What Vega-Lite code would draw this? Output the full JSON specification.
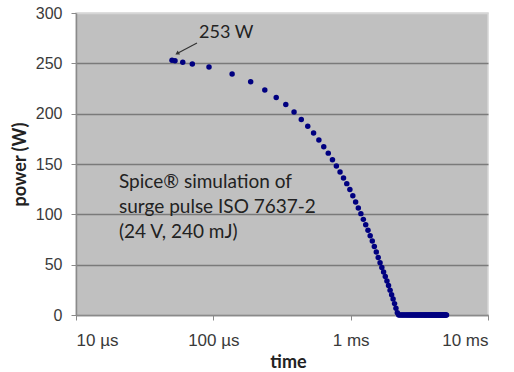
{
  "$schema": "https://vega.github.io/schema/vega-lite/v6.json",
  "width": 412,
  "height": 302,
  "autosize": {"type": "none"},
  "padding": {"left": 76, "top": 13, "right": 26, "bottom": 57},
  "background": "white",
  "config": {
    "view": {"fill": "#c0c0c0", "stroke": "#d6d6d6", "strokeWidth": 1.5}
  },
  "datasets": {
    "pts": [
      {"t": 50.0, "p": 253.0}, {"t": 52.6, "p": 252.5}, {"t": 59.9, "p": 251.0}, {"t": 70.3, "p": 249.3},
      {"t": 93, "p": 246.3}, {"t": 137, "p": 239.4}, {"t": 187, "p": 231.8}, {"t": 237, "p": 223.5},
      {"t": 287, "p": 216.0}, {"t": 337, "p": 209.0}, {"t": 387, "p": 201.7}, {"t": 437, "p": 194.1},
      {"t": 487, "p": 187.5}, {"t": 537, "p": 180.8}, {"t": 587, "p": 173.8}, {"t": 637, "p": 167.2},
      {"t": 687, "p": 160.8}, {"t": 737, "p": 154.3}, {"t": 787, "p": 148.0}, {"t": 837, "p": 142.0},
      {"t": 887, "p": 136.2}, {"t": 937, "p": 130.5}, {"t": 987, "p": 124.7}, {"t": 1037, "p": 118.5},
      {"t": 1087, "p": 112.2}, {"t": 1137, "p": 106.4}, {"t": 1187, "p": 100.7}, {"t": 1237, "p": 95.0},
      {"t": 1287, "p": 89.6}, {"t": 1337, "p": 84.2}, {"t": 1387, "p": 78.8}, {"t": 1437, "p": 73.4},
      {"t": 1487, "p": 68.0}, {"t": 1537, "p": 62.6}, {"t": 1587, "p": 57.2}, {"t": 1637, "p": 51.8},
      {"t": 1687, "p": 47.2}, {"t": 1737, "p": 42.7}, {"t": 1787, "p": 38.2}, {"t": 1837, "p": 33.7},
      {"t": 1887, "p": 29.2}, {"t": 1937, "p": 24.7}, {"t": 1987, "p": 20.2}, {"t": 2037, "p": 15.8},
      {"t": 2087, "p": 11.3}, {"t": 2137, "p": 6.8}, {"t": 2187, "p": 2.3}, {"t": 2237, "p": 0},
      {"t": 2287, "p": 0}, {"t": 2337, "p": 0}, {"t": 2387, "p": 0}, {"t": 2437, "p": 0},
      {"t": 2487, "p": 0}, {"t": 2537, "p": 0}, {"t": 2587, "p": 0}, {"t": 2637, "p": 0},
      {"t": 2687, "p": 0}, {"t": 2737, "p": 0}, {"t": 2787, "p": 0}, {"t": 2837, "p": 0},
      {"t": 2887, "p": 0}, {"t": 2937, "p": 0}, {"t": 2987, "p": 0}, {"t": 3037, "p": 0},
      {"t": 3087, "p": 0}, {"t": 3137, "p": 0}, {"t": 3187, "p": 0}, {"t": 3237, "p": 0},
      {"t": 3287, "p": 0}, {"t": 3337, "p": 0}, {"t": 3387, "p": 0}, {"t": 3437, "p": 0},
      {"t": 3487, "p": 0}, {"t": 3537, "p": 0}, {"t": 3587, "p": 0}, {"t": 3637, "p": 0},
      {"t": 3687, "p": 0}, {"t": 3737, "p": 0}, {"t": 3787, "p": 0}, {"t": 3837, "p": 0},
      {"t": 3887, "p": 0}, {"t": 3937, "p": 0}, {"t": 3987, "p": 0}, {"t": 4037, "p": 0},
      {"t": 4087, "p": 0}, {"t": 4137, "p": 0}, {"t": 4187, "p": 0}, {"t": 4237, "p": 0},
      {"t": 4287, "p": 0}, {"t": 4337, "p": 0}, {"t": 4387, "p": 0}, {"t": 4437, "p": 0},
      {"t": 4487, "p": 0}, {"t": 4537, "p": 0}, {"t": 4587, "p": 0}, {"t": 4637, "p": 0},
      {"t": 4687, "p": 0}, {"t": 4737, "p": 0}, {"t": 4787, "p": 0}, {"t": 4837, "p": 0},
      {"t": 4887, "p": 0}, {"t": 4937, "p": 0}, {"t": 4987, "p": 0}
    ],
    "notes": [
      {"t": 20.57, "p": 132.1, "label": "Spice® simulation of"},
      {"t": 20.57, "p": 107.3, "label": "surge pulse ISO 7637-2"},
      {"t": 20.57, "p": 82.5, "label": "(24 V, 240 mJ)"}
    ],
    "peak": [
      {"t": 78.7, "p": 280.1, "label": "253 W"}
    ],
    "arrow": [
      {"t": 76.0, "p": 270.2, "t2": 54.5, "p2": 259.8}
    ],
    "head": [
      {"t": 54.5, "p": 259.8}
    ]
  },
  "layer": [
    {
      "data": {"name": "pts"},
      "mark": {"type": "point", "shape": "circle", "filled": true, "size": 30, "color": "#000080", "opacity": 1},
      "encoding": {
        "x": {
          "field": "t", "type": "quantitative",
          "scale": {"type": "log", "domain": [10, 10000], "nice": false},
          "axis": {
            "values": [10, 100, 1000, 10000],
            "labelExpr": "datum.value == 10 ? '10 µs' : datum.value == 100 ? '100 µs' : datum.value == 1000 ? '1 ms' : '10 ms'",
            "grid": false,
            "tickSize": 5, "tickColor": "#8a8a8a", "domainColor": "#8a8a8a", "domainWidth": 1.5,
            "labelFont": "Liberation Sans", "labelFontSize": 17, "labelColor": "#3a3a3a", "labelPadding": 12,
            "title": "time", "titleFont": "Lato", "titleFontWeight": "bold", "titleFontSize": 18, "titleColor": "#222222",
            "titleX": 212, "titleY": 47, "titleBaseline": "middle"
          }
        },
        "y": {
          "field": "p", "type": "quantitative",
          "scale": {"domain": [0, 300], "nice": false},
          "axis": {
            "values": [0, 50, 100, 150, 200, 250, 300],
            "grid": true,
            "gridColor": {"condition": {"test": "datum.value == 300", "value": "#d6d6d6"}, "value": "#7a7a7a"},
            "gridWidth": 1.5,
            "tickSize": 5, "tickColor": "#8a8a8a", "domainColor": "#8a8a8a", "domainWidth": 1.5,
            "labelFont": "Liberation Sans", "labelFontSize": 16, "labelColor": "#3a3a3a", "labelPadding": 9,
            "title": "power (W)", "titleFont": "Lato", "titleFontWeight": "bold", "titleFontSize": 18, "titleColor": "#222222",
            "titleX": -56, "titleBaseline": "middle"
          }
        }
      }
    },
    {
      "data": {"name": "arrow"},
      "mark": {"type": "rule", "color": "#333333", "strokeWidth": 1.2},
      "encoding": {
        "x": {"field": "t", "type": "quantitative"},
        "y": {"field": "p", "type": "quantitative"},
        "x2": {"field": "t2"},
        "y2": {"field": "p2"}
      }
    },
    {
      "data": {"name": "head"},
      "mark": {"type": "point", "shape": "triangle-up", "filled": true, "size": 22, "angle": 239, "color": "#333333", "opacity": 1},
      "encoding": {
        "x": {"field": "t", "type": "quantitative"},
        "y": {"field": "p", "type": "quantitative"}
      }
    },
    {
      "data": {"name": "peak"},
      "mark": {"type": "text", "align": "left", "baseline": "middle", "font": "Lato", "fontSize": 18, "color": "#222222"},
      "encoding": {
        "x": {"field": "t", "type": "quantitative"},
        "y": {"field": "p", "type": "quantitative"},
        "text": {"field": "label"}
      }
    },
    {
      "data": {"name": "notes"},
      "mark": {"type": "text", "align": "left", "baseline": "middle", "font": "Lato", "fontSize": 19, "color": "#222222"},
      "encoding": {
        "x": {"field": "t", "type": "quantitative"},
        "y": {"field": "p", "type": "quantitative"},
        "text": {"field": "label"}
      }
    }
  ]
}
